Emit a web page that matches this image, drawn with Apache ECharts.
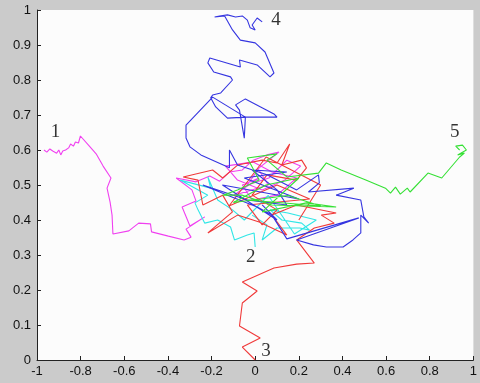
<!DOCTYPE html>
<html>
<head>
<meta charset="utf-8">
<script src="https://cdn.jsdelivr.net/npm/echarts@6/dist/echarts.min.js"></script>
<style>
  html, body { margin: 0; padding: 0; background: #cbcbcb; }
  #chart { width: 480px; height: 383px; }
</style>
</head>
<body>
<div id="chart"></div>
<script>
// trajectories of the five agents, [x, y]
const agent1 = [[-0.968,0.600],[-0.955,0.594],[-0.941,0.603],[-0.928,0.597],[-0.919,0.600],[-0.910,0.591],[-0.900,0.600],[-0.891,0.586],[-0.882,0.597],[-0.869,0.600],[-0.855,0.606],[-0.846,0.617],[-0.833,0.611],[-0.824,0.623],[-0.810,0.620],[-0.801,0.640],[-0.760,0.611],[-0.729,0.589],[-0.697,0.554],[-0.661,0.520],[-0.679,0.491],[-0.665,0.451],[-0.656,0.414],[-0.652,0.360],[-0.579,0.369],[-0.534,0.391],[-0.480,0.389],[-0.475,0.366],[-0.398,0.354],[-0.326,0.343],[-0.294,0.351],[-0.317,0.374],[-0.231,0.409],[-0.299,0.383],[-0.335,0.437],[-0.271,0.454],[-0.290,0.486],[-0.362,0.520],[-0.271,0.509],[-0.208,0.526],[-0.163,0.511],[-0.118,0.537],[-0.059,0.543],[-0.009,0.571],[0.054,0.586],[0.109,0.594],[0.018,0.549],[-0.036,0.500],[0.063,0.520],[0.145,0.571],[0.208,0.554],[0.136,0.514],[0.032,0.486],[-0.081,0.514],[-0.136,0.554],[-0.009,0.566],[0.077,0.537],[0.190,0.520],[0.100,0.471],[-0.014,0.457],[-0.059,0.500],[0.018,0.520],[-0.100,0.470],[0.060,0.500],[0.020,0.540]];
const agent2 = [[-0.014,0.414],[0.054,0.386],[0.032,0.343],[0.100,0.377],[0.204,0.377],[0.249,0.371],[0.213,0.391],[0.122,0.400],[0.068,0.429],[0.150,0.420],[0.280,0.400],[0.180,0.360],[0.060,0.470],[-0.050,0.400],[-0.104,0.429],[-0.172,0.457],[-0.217,0.523],[-0.204,0.491],[-0.344,0.514],[-0.217,0.471],[-0.276,0.449],[-0.262,0.429],[-0.231,0.391],[-0.172,0.400],[-0.113,0.380],[-0.095,0.343],[-0.036,0.357],[-0.005,0.363],[0.000,0.323]];
const agent3 = [[0.000,0.000],[-0.059,0.037],[0.023,0.063],[-0.072,0.097],[-0.059,0.163],[0.009,0.197],[-0.059,0.223],[0.086,0.263],[0.190,0.274],[0.271,0.277],[0.190,0.343],[0.271,0.377],[0.362,0.391],[0.303,0.414],[0.371,0.420],[0.190,0.443],[0.077,0.414],[0.145,0.357],[0.018,0.394],[-0.081,0.414],[-0.217,0.363],[-0.104,0.423],[-0.149,0.471],[-0.240,0.443],[-0.262,0.514],[-0.330,0.523],[-0.195,0.543],[-0.149,0.520],[-0.081,0.557],[0.032,0.571],[0.100,0.563],[0.158,0.617],[0.122,0.557],[0.213,0.571],[0.235,0.549],[0.190,0.514],[0.054,0.529],[-0.014,0.471],[0.100,0.429],[0.032,0.386],[-0.036,0.443],[0.250,0.460],[0.100,0.500],[-0.120,0.440],[0.050,0.580],[0.300,0.500],[0.200,0.400]];
const agent4 = [[0.032,0.966],[0.009,0.977],[-0.014,0.957],[0.000,0.943],[-0.023,0.949],[-0.036,0.971],[-0.059,0.983],[-0.090,0.980],[-0.127,0.986],[-0.163,0.983],[-0.186,0.980],[-0.140,0.983],[-0.104,0.943],[-0.068,0.914],[0.000,0.906],[0.045,0.880],[0.086,0.820],[0.068,0.809],[0.009,0.843],[-0.072,0.857],[-0.068,0.837],[-0.208,0.863],[-0.217,0.849],[-0.190,0.823],[-0.113,0.809],[-0.104,0.800],[-0.158,0.763],[-0.195,0.757],[-0.204,0.749],[-0.181,0.723],[-0.127,0.691],[-0.045,0.694],[0.100,0.694],[0.086,0.703],[-0.045,0.746],[-0.090,0.729],[-0.072,0.714],[-0.050,0.634],[-0.045,0.694],[-0.195,0.751],[-0.317,0.671],[-0.317,0.634],[-0.299,0.609],[-0.249,0.586],[-0.118,0.549],[-0.118,0.600],[-0.081,0.557],[0.054,0.529],[0.190,0.486],[0.290,0.529],[0.294,0.506],[0.244,0.480],[0.452,0.491],[0.371,0.471],[0.484,0.457],[0.498,0.409],[0.520,0.391],[0.484,0.414],[0.484,0.363],[0.448,0.343],[0.403,0.323],[0.326,0.323],[0.267,0.329],[0.190,0.343],[0.475,0.406],[0.145,0.346],[0.077,0.414],[0.009,0.437],[-0.127,0.471],[-0.240,0.500],[-0.036,0.457],[0.145,0.443],[0.100,0.486],[-0.014,0.543],[0.145,0.537],[-0.050,0.520],[0.200,0.460],[-0.150,0.500],[0.100,0.400],[0.032,0.443]];
const agent5 = [[0.937,0.600],[0.919,0.611],[0.950,0.614],[0.968,0.600],[0.928,0.586],[0.959,0.591],[0.937,0.580],[0.855,0.520],[0.792,0.534],[0.710,0.480],[0.697,0.491],[0.665,0.474],[0.643,0.494],[0.620,0.477],[0.597,0.491],[0.507,0.514],[0.394,0.543],[0.326,0.563],[0.290,0.534],[0.145,0.523],[0.054,0.571],[0.100,0.589],[-0.036,0.577],[0.018,0.514],[-0.081,0.486],[-0.149,0.471],[-0.059,0.471],[0.077,0.443],[0.371,0.437],[0.235,0.449],[0.032,0.423],[0.200,0.520],[0.050,0.500],[-0.100,0.450],[0.150,0.470],[0.300,0.440],[-0.036,0.457]];

const agentColors = ['#f040f0', '#30e6e6', '#f03a3a', '#3535e0', '#35e035'];
const agentData = [agent1, agent2, agent3, agent4, agent5];

// agent number labels
const labelNames = ['1', '2', '3', '4', '5'];
const labelPos = [[-0.915, 0.652], [-0.02, 0.295], [0.05, 0.027], [0.095, 0.972], [0.915, 0.652]];

const xTicks = [-1, 1, 0.2];
const yTicks = [0, 1, 0.1];

const chart = echarts.init(document.getElementById('chart'));

const series = agentData.map((d, i) => ({
  type: 'line',
  data: d,
  showSymbol: false,
  symbol: 'none',
  lineStyle: {color: agentColors[i], width: 1.1},
  animation: false
}));

series.push({
  type: 'scatter',
  symbolSize: 0,
  data: labelPos.map((p, i) => ({value: p, name: labelNames[i]})),
  label: {
    show: true,
    position: 'inside',
    formatter: '{b}',
    fontFamily: 'Liberation Serif',
    fontSize: 19,
    color: '#000'
  },
  animation: false
});

const option = {
  backgroundColor: '#cbcbcb',
  grid: {
    left: 37, right: 1, top: 10, bottom: 23,
    show: true,
    backgroundColor: '#fcfcfc',
    borderWidth: 0
  },
  xAxis: {
    type: 'value',
    min: xTicks[0], max: xTicks[1], interval: xTicks[2],
    splitLine: {show: false},
    axisLine: {onZero: false, lineStyle: {color: '#222', width: 1}},
    axisTick: {inside: true, length: 4, lineStyle: {color: '#222'}},
    axisLabel: {
      color: '#111', fontFamily: 'Liberation Sans', fontSize: 13, margin: 5,
      formatter: v => String(Math.round(v * 10) / 10)
    }
  },
  yAxis: {
    type: 'value',
    min: yTicks[0], max: yTicks[1], interval: yTicks[2],
    splitLine: {show: false},
    axisLine: {show: true, onZero: false, lineStyle: {color: '#222', width: 1}},
    axisTick: {show: true, inside: true, length: 4, lineStyle: {color: '#222'}},
    axisLabel: {
      color: '#111', fontFamily: 'Liberation Sans', fontSize: 13, margin: 6,
      formatter: v => String(Math.round(v * 10) / 10)
    }
  },
  series: series
};

chart.setOption(option);
</script>
</body>
</html>
